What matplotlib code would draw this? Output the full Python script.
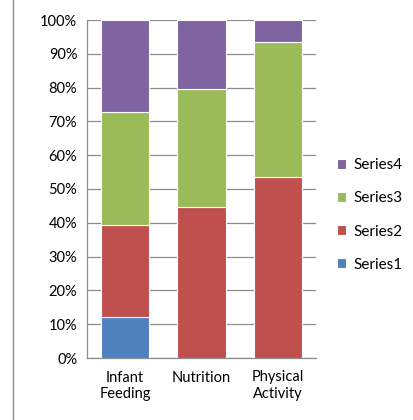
import matplotlib.pyplot as plt
import numpy as np

categories = ['Infant\nFeeding', 'Nutrition', 'Physical\nActivity']
series_names = ['Series1', 'Series2', 'Series3', 'Series4']
series1 = [12.0, 0.0, 0.0]
series2 = [27.3, 44.6, 53.5]
series3 = [33.6, 34.9, 40.0]
series4 = [27.1, 20.5, 6.5]
colors = ['#4f81bd', '#c0504d', '#9bbb59', '#8064a2']

plt.rcParams['font.family'] = ['Lato', 'DejaVu Sans']

fig = plt.figure(figsize=(4.13, 4.2), dpi=100)
W, H = 413, 420
ax = fig.add_axes([87 / W, 1 - 358 / H, (316 - 87) / W, (358 - 20) / H])

x = np.arange(len(categories))
bottom = np.zeros(len(categories))
handles = []
for name, vals, c in zip(series_names, [series1, series2, series3, series4], colors):
    b = ax.bar(x, vals, 0.63, bottom=bottom, color=c, edgecolor='white', linewidth=0.8,
               label=name, zorder=3)
    handles.append(b)
    bottom += np.array(vals)

ax.set_xlim(-0.5, 2.5)
ax.set_ylim(0, 100)
ax.set_yticks(np.arange(0, 101, 10))
ax.set_yticklabels([f'{v}%' for v in range(0, 101, 10)], fontsize=10.5)
ax.set_xticks(x)
ax.set_xticklabels(categories, fontsize=10.5, linespacing=1.25)
ax.tick_params(axis='both', length=0, pad=7)
ax.tick_params(axis='x', pad=9)
ax.grid(axis='y', color='#8c8c8c', linewidth=0.9, zorder=0)
for s in ['top', 'right']:
    ax.spines[s].set_visible(False)
for s in ['left', 'bottom']:
    ax.spines[s].set_color('#8c8c8c')
    ax.spines[s].set_linewidth(0.9)

leg = fig.legend(handles[::-1], series_names[::-1], loc='center left',
                 bbox_to_anchor=(337 / W, 1 - 215 / H), frameon=False,
                 fontsize=11, handlelength=0.6, handleheight=0.6,
                 handletextpad=0.45, labelspacing=1.25, borderpad=0,
                 borderaxespad=0)

fig.add_artist(plt.Line2D([13 / W, 13 / W], [0, 1], color='#8c8c8c', linewidth=1))

fig.savefig('out.png', dpi=100)
